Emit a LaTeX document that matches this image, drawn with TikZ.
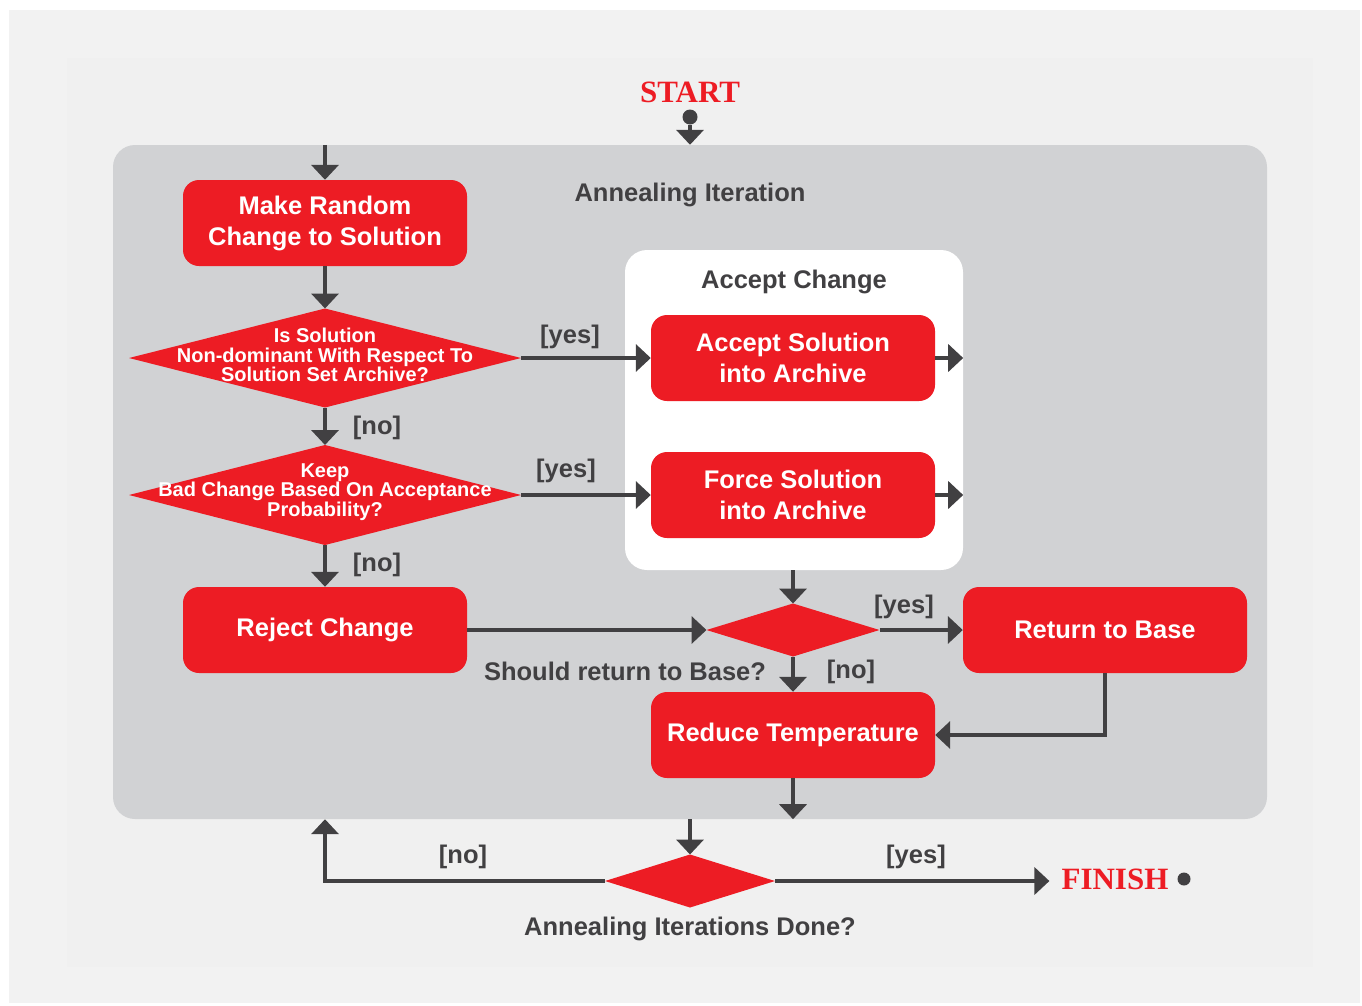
\documentclass[tikz,border=0pt]{standalone}
\usepackage{fontspec}
\setsansfont{Liberation Sans}
\newfontfamily\endsfont{Liberation Serif}
\usepackage{tikz}
\usetikzlibrary{arrows.meta, positioning, calc, shapes.geometric}
\usepackage{xcolor}
\definecolor{flowred}{RGB}{237,28,36}
\definecolor{darkgrey}{RGB}{65,64,66}
\definecolor{panelgrey}{RGB}{209,210,212}
\definecolor{bggrey}{RGB}{242,242,242}
\definecolor{innergrey}{RGB}{240,240,240}
\tikzset{
  proc/.style={rectangle, rounded corners=16pt, fill=flowred, text=white, minimum width=284pt, minimum height=86pt, align=center, font=\sffamily\bfseries\fontsize{25.5}{31}\selectfont},
  dec/.style={diamond, fill=flowred, inner sep=0pt, outer sep=0pt},
  dectext/.style={text=white, align=center, yshift=3pt, font=\sffamily\bfseries\fontsize{20}{19.5}\selectfont},
  lbl/.style={text=darkgrey, yshift=-2.5pt, font=\sffamily\bfseries\fontsize{25.5}{28}\selectfont},
  panel/.style={fill=panelgrey, rounded corners=22pt, minimum width=1154pt, minimum height=674pt},
  accbox/.style={fill=white, rounded corners=22pt, minimum width=338pt, minimum height=320pt},
  arr/.style={draw=darkgrey, line width=4.5pt, -{Triangle[length=15pt,width=27pt]}},
  endtext/.style={text=flowred, inner sep=0pt, font=\endsfont\bfseries\fontsize{31}{31}\selectfont},
  enddot/.style={fill=darkgrey, circle, inner sep=0pt},
}
\begin{document}
\begin{tikzpicture}[x=1pt, y=-1pt]
  % background
  \fill[white] (0,0) rectangle (1362,1005);
  \fill[bggrey] (9,10) rectangle (1360,1003);
  \fill[innergrey] (67,58) rectangle (1313,967);
  \useasboundingbox (0,0) rectangle (1362,1005);

  % panels
  \node[panel] (iter) at (690,482) {};
  \node[lbl] (itertitle) at (690,192) {Annealing Iteration};
  \node[accbox] (acc) at (794,410) {};
  \node[lbl] (acctitle) at (794,279) {Accept Change};

  % start
  \node[endtext] (start) at (690,92) {START};
  \node[enddot, minimum size=15pt] (startdot) at (690,117) {};

  % left column
  \node[proc] (mk) at (325,223) {Make Random\\Change to Solution};
  \node[dec, minimum width=392pt, minimum height=99pt] (d1) at (325,358) {};
  \node[dectext] (d1t) at (d1) {Is Solution\\Non-dominant With Respect To\\Solution Set Archive?};
  \node[dec, minimum width=392pt, minimum height=100pt] (d2) at (325,495) {};
  \node[dectext] (d2t) at (d2) {Keep\\Bad Change Based On Acceptance\\Probability?};
  \node[proc] (rej) at (325,630) {Reject Change};

  % accept change
  \node[proc] (acc1) at (793,358) {Accept Solution\\into Archive};
  \node[proc] (acc2) at (793,495) {Force Solution\\into Archive};

  % return to base
  \node[dec, minimum width=173pt, minimum height=53pt] (d3) at (793,630) {};
  \node[proc] (ret) at (1105,630) {Return to Base};
  \node[proc] (red) at (793,735) {Reduce Temperature};

  % done?
  \node[dec, minimum width=170pt, minimum height=53pt] (d4) at (690,881) {};
  \node[endtext] (finish) at (1115,879) {FINISH};
  \node[enddot, minimum size=13pt] (finishdot) at (1184,879) {};

  % connectors
  \draw[arr] (startdot) -- (iter.north);
  \draw[arr] (iter.north -| mk) -- (mk);
  \draw[arr] (mk) -- (d1);
  \draw[arr] (d1) -- (d2);
  \draw[arr] (d2) -- (rej);
  \draw[arr] (d1.east) -- (acc1.west);
  \draw[arr] (d2.east) -- (acc2.west);
  \draw[arr] (acc1.east) -- (acc1.east -| acc.east);
  \draw[arr] (acc2.east) -- (acc2.east -| acc.east);
  \draw[arr] (acc.south -| d3) -- (d3.north);
  \draw[arr] (rej.east) -- (d3.west);
  \draw[arr] (d3.east) -- (ret.west);
  \draw[arr] (d3.south) -- (red.north);
  \draw[arr] (ret.south) |- (red.east);
  \draw[arr] (red.south) -- (iter.south -| red);
  \draw[arr] (iter.south) -- (d4.north);
  \draw[arr] (d4.west) -- (d4.west -| mk) -- (iter.south -| mk);
  \draw[arr] (d4.east) -- ([xshift=-12pt]d4.east -| finish.west);

  % labels
  \node[lbl] (no1) at (377,425) {[no]};
  \node[lbl] (no2) at (377,562) {[no]};
  \node[lbl] (yes1) at (570,334) {[yes]};
  \node[lbl] (yes2) at (566,468) {[yes]};
  \node[lbl] (yes3) at (904,604) {[yes]};
  \node[lbl] (no3) at (851,669) {[no]};
  \node[lbl] (d3t) at (625,669) {Should return to Base?};
  \node[lbl] (no4) at (463,854) {[no]};
  \node[lbl] (yes4) at (916,854) {[yes]};
  \node[lbl] (d4t) at (690,926) {Annealing Iterations Done?};
\end{tikzpicture}
\end{document}
